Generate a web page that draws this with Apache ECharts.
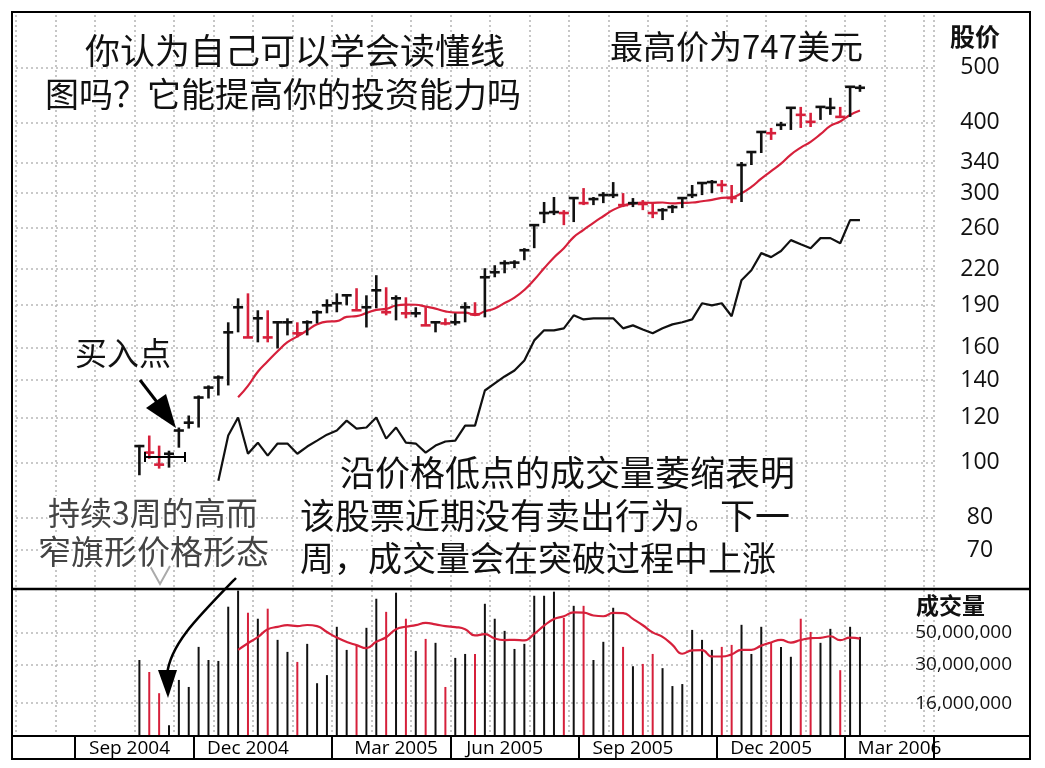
<!DOCTYPE html>
<html><head><meta charset="utf-8">
<script src="https://cdn.jsdelivr.net/npm/echarts@6/dist/echarts.min.js"></script>
<style>html,body{margin:0;padding:0;background:#fff}#c{width:1045px;height:768px}</style>
</head><body><div id="c"></div>
<script>
// ---- data ----
const slotCount = 93;       // weekly slots on the time axis
const dataOffset = 12;      // slot of the first weekly bar
const monthLabels = ['Sep 2004','Dec 2004','Mar 2005','Jun 2005','Sep 2005','Dec 2005','Mar 2006'];
const monthLabelSlots = [11,23,38,49,62,76,89];
const quarterBoundarySlots = [6,18,32,44,57,71,84];
const priceTicks = [70,80,100,120,140,160,190,220,260,300,340,400,500];
const volumeTicks = [16000000,30000000,50000000];

const priceHigh = [107.5,111.7,107.2,105.0,115.4,121.2,131.5,137.0,142.7,177.2,195.4,199.4,186.1,186.1,177.2,180.1,177.2,178.6,186.1,194.6,
 199.4,197.8,203.6,197.8,214.7,204.4,197.8,196.2,188.4,188.4,177.2,180.1,183.8,192.3,192.3,220.9,223.6,228.2,228.2,239.7,
 263.3,289.3,295.3,279.9,294.0,306.2,295.3,301.2,313.8,300.0,294.0,291.6,289.3,282.2,285.7,295.3,310.1,313.8,316.4,316.4,
 310.1,340.6,354.7,384.9,391.3,401.1,424.7,426.3,416.2,426.3,442.4,426.3,462.7,466.4];
const priceLow = [95.0,101.6,97.6,98.0,106.3,114.9,115.4,129.9,131.5,137.0,170.1,166.6,163.3,163.3,159.3,168.0,166.6,168.0,176.4,183.8,
 184.6,189.9,186.1,173.5,187.6,182.3,178.6,180.1,180.8,175.0,170.1,175.0,175.0,177.2,182.3,180.8,212.9,216.4,220.9,228.2,
 239.7,265.5,274.3,263.3,266.6,285.7,285.7,288.0,294.0,283.4,283.4,279.9,270.9,268.8,276.6,282.2,294.0,297.6,300.0,301.2,
 288.0,289.3,336.4,353.3,372.6,388.1,388.1,391.3,392.8,404.3,412.7,407.6,409.3,453.3];
const priceClose = [107.0,104.2,99.2,103.7,114.0,117.7,130.4,135.8,141.5,170.1,188.4,166.6,180.1,166.6,177.2,177.2,169.4,177.2,184.6,189.9,
 191.5,197.8,186.1,188.4,201.9,184.6,195.4,183.8,183.8,175.0,177.2,176.4,177.2,188.4,183.1,212.9,217.3,225.5,226.0,237.7,
 263.3,276.6,277.7,276.6,294.0,288.0,292.8,297.6,297.6,285.7,288.0,287.0,276.6,279.9,283.4,294.0,297.6,312.6,313.8,310.1,
 294.0,336.4,354.7,384.9,383.0,396.2,424.7,412.7,401.1,426.3,424.7,409.3,462.7,460.9];
// weeks drawn in red (down weeks)
const downWeeks = [1,2,11,13,16,22,25,27,29,31,34,43,45,49,51,52,59,60,64,67,68,71];
// relative strength line (plotted on the price scale)
const rsLine = [null,null,null,null,null,null,null,null,92.9,111.7,120.2,103.7,108.5,102.9,108.1,108.1,103.7,106.8,109.4,112.1,
 114.0,118.7,114.9,115.4,120.2,110.3,115.4,108.5,108.1,104.2,107.2,109.0,109.4,116.3,116.3,134.2,138.1,142.1,145.6,151.7,
 164.6,171.5,171.5,172.9,182.3,179.3,180.1,180.1,180.1,172.9,175.0,172.1,169.4,172.9,175.7,177.2,179.3,191.5,189.9,191.5,
 181.6,210.4,219.1,234.9,231.1,236.9,247.7,243.6,239.7,249.7,249.7,244.6,268.8,268.8];
// weekly volume, millions of shares
const volumeM = [32.2,26.5,18.8,11.2,23.3,20.8,39.8,32.2,31.7,76.3,99.0,69.2,62.8,73.9,44.6,36.7,31.2,41.8,22.1,25.2,
 55.1,37.9,41.1,54.2,86.8,70.2,95.7,62.8,37.3,45.3,42.5,20.8,33.3,35.5,35.5,80.0,62.8,51.6,38.5,41.8,
 91.1,91.1,97.3,63.7,77.4,77.4,32.2,43.2,75.0,39.8,29.1,30.2,35.5,28.2,21.1,21.8,52.4,44.6,37.9,39.8,
 41.1,56.9,35.5,55.1,42.5,39.8,33.9,62.8,50.7,42.5,53.3,27.3,55.1,46.8];

const RED = '#d6203b';
const maStart = 10, maLen = 10;
function movingAvg(arr){
  return arr.map((v,i)=>{ if(i<maStart) return null; let s=0; for(let k=i-maLen+1;k<=i;k++) s+=arr[k]; return s/maLen; });
}
const down = priceClose.map((c,i)=> downWeeks.includes(i) ? 1 : 0);
const categories = Array.from({length:slotCount},(_,i)=>'W'+i);
const barData = priceClose.map((c,i)=>[i+dataOffset, priceHigh[i], priceLow[i], c, down[i]]);
const volData = volumeM.map((v,i)=>[i+dataOffset, v*1e6, down[i]]);
const priceMA = movingAvg(priceClose).map((v,i)=>[i+dataOffset, v]);
const volMA = movingAvg(volumeM).map((v,i)=>[i+dataOffset, v==null?null:v*1e6]);
const rsData = rsLine.map((v,i)=>[i+dataOffset, v]);

const gridLS = {color:'#b8b8b8', width:1.6, type:[2,3]};
const numFont = '"Open Sans", "Liberation Sans", sans-serif';
const cjk = '"Noto Sans CJK SC", sans-serif';

const chart = echarts.init(document.getElementById('c'));
chart.setOption({
  animation:false,
  backgroundColor:'#fff',
  grid:[{left:16,right:111,top:15,bottom:180},{left:16,right:111,top:590,bottom:32}],
  xAxis:[
    {type:'category',gridIndex:0,data:categories,boundaryGap:true,
     axisLine:{show:false},axisTick:{show:false},axisLabel:{show:false},
     splitLine:{show:true,interval:(i)=>i%4===0,lineStyle:gridLS}},
    {type:'category',gridIndex:1,data:categories,boundaryGap:true,
     axisLine:{show:false},
     axisTick:{show:true,length:22,interval:(i)=>quarterBoundarySlots.includes(i),lineStyle:{color:'#000',width:2}},
     axisLabel:{show:true,interval:(i)=>monthLabelSlots.includes(i),
       formatter:(v,i)=>monthLabels[monthLabelSlots.indexOf(i)] || '',
       fontFamily:numFont,fontSize:19,color:'#000',margin:3},
     splitLine:{show:true,interval:(i)=>i%4===0,lineStyle:gridLS}}
  ],
  yAxis:[
    {type:'log',logBase:10,gridIndex:0,position:'right',min:60,max:620,
     axisLine:{show:false},
     axisTick:{show:false,customValues:priceTicks},
     axisLabel:{customValues:priceTicks,fontFamily:numFont,fontSize:23,color:'#111',align:'center',margin:46},
     splitLine:{show:true,lineStyle:gridLS}},
    {type:'log',logBase:10,gridIndex:1,position:'right',min:9.4e6,max:1e8,
     axisLine:{show:false},
     axisTick:{show:false,customValues:volumeTicks},
     axisLabel:{customValues:volumeTicks,fontFamily:numFont,fontSize:19,color:'#111',align:'right',margin:78,
       formatter:(v)=>Math.round(v).toLocaleString('en-US')},
     splitLine:{show:true,lineStyle:gridLS}}
  ],
  series:[
    {type:'custom',xAxisIndex:0,yAxisIndex:0,data:barData,encode:{x:0,y:[1,2,3]},z:5,
     renderItem:(params,api)=>{
       const x=api.value(0); const h=api.coord([x,api.value(1)]); const l=api.coord([x,api.value(2)]); const c=api.coord([x,api.value(3)]);
       const col=api.value(4)?RED:'#111';
       return {type:'group',children:[
         {type:'line',shape:{x1:h[0],y1:h[1],x2:l[0],y2:l[1]},style:{stroke:col,lineWidth:2.6}},
         {type:'line',shape:{x1:c[0]-5,y1:c[1],x2:c[0]+5,y2:c[1]},style:{stroke:col,lineWidth:2.6}}]};
     }},
    {type:'line',xAxisIndex:0,yAxisIndex:0,data:priceMA,smooth:true,showSymbol:false,
     lineStyle:{color:RED,width:2.2},z:4},
    {type:'line',xAxisIndex:0,yAxisIndex:0,data:rsData,showSymbol:false,lineStyle:{color:'#111',width:2.2},z:4},
    {type:'custom',xAxisIndex:1,yAxisIndex:1,data:volData,encode:{x:0,y:1},z:5,
     renderItem:(params,api)=>{
       const x=api.value(0); const t=api.coord([x,api.value(1)]);
       const bottom=params.coordSys.y+params.coordSys.height;
       return {type:'line',shape:{x1:t[0],y1:Math.max(t[1],params.coordSys.y),x2:t[0],y2:bottom},
         style:{stroke:api.value(2)?RED:'#111',lineWidth:2}};
     }},
    {type:'line',xAxisIndex:1,yAxisIndex:1,data:volMA,smooth:true,showSymbol:false,lineStyle:{color:RED,width:2.2},z:6}
  ],
  graphic:[
    {type:'rect',shape:{x:12,y:12,width:1018,height:747},style:{fill:null,stroke:'#000',lineWidth:2},z:50},
    {type:'line',shape:{x1:12,y1:589,x2:1030,y2:589},style:{stroke:'#000',lineWidth:2.5},z:50},
    {type:'line',shape:{x1:12,y1:736,x2:1030,y2:736},style:{stroke:'#000',lineWidth:2},z:50},
    {type:'text',x:950,y:24,style:{text:'股价',font:'bold 25px '+cjk,fill:'#111'},z:50},
    {type:'text',x:916,y:594,style:{text:'成交量',font:'bold 23px '+cjk,fill:'#111'},z:50},
    {type:'text',x:85,y:33,style:{text:'你认为自己可以学会读懂线',font:'35px '+cjk,fill:'#111'},z:50},
    {type:'text',x:45,y:77,style:{text:'图吗？它能提高你的投资能力吗',font:'34px '+cjk,fill:'#111'},z:50},
    {type:'text',x:610,y:30,style:{text:'最高价为747美元',font:'33px '+cjk,fill:'#111'},z:50},
    {type:'text',x:75,y:337,style:{text:'买入点',font:'32px '+cjk,fill:'#111'},z:50},
    {type:'line',shape:{x1:140,y1:380,x2:160,y2:406},style:{stroke:'#000',lineWidth:3},z:50},
    {type:'polygon',shape:{points:[[146,408],[166,394],[176,428]]},style:{fill:'#000'},z:50},
    {type:'polyline',shape:{points:[[145,452],[145,462]]},style:{stroke:'#000',lineWidth:2},z:50},
    {type:'polyline',shape:{points:[[145,457],[185,457]]},style:{stroke:'#000',lineWidth:2},z:50},
    {type:'polyline',shape:{points:[[185,452],[185,462]]},style:{stroke:'#000',lineWidth:2},z:50},
    {type:'polyline',shape:{points:[[150,566],[160,584],[170,566]]},style:{stroke:'#aaa',lineWidth:2},z:50},
    {type:'text',x:48,y:497,style:{text:'持续3周的高而',font:'32px '+cjk,fill:'#444',stroke:'#fff',lineWidth:4},z:50},
    {type:'text',x:38,y:535,style:{text:'窄旗形价格形态',font:'33px '+cjk,fill:'#444',stroke:'#fff',lineWidth:4},z:50},
    {type:'text',x:340,y:455,style:{text:'沿价格低点的成交量萎缩表明',font:'35px '+cjk,fill:'#111',stroke:'#fff',lineWidth:4},z:50},
    {type:'text',x:300,y:498,style:{text:'该股票近期没有卖出行为。下一',font:'35px '+cjk,fill:'#111',stroke:'#fff',lineWidth:4},z:50},
    {type:'text',x:300,y:541,style:{text:'周，成交量会在突破过程中上涨',font:'34px '+cjk,fill:'#111',stroke:'#fff',lineWidth:4},z:50},
    {type:'bezierCurve',shape:{x1:236,y1:578,cpx1:195,cpy1:620,cpx2:170,cpy2:645,x2:167,y2:675},style:{stroke:'#000',lineWidth:2.5,fill:null},z:50},
    {type:'polygon',shape:{points:[[158,670],[177,670],[168,698]]},style:{fill:'#000'},z:50}
  ]
});
</script></body></html>
